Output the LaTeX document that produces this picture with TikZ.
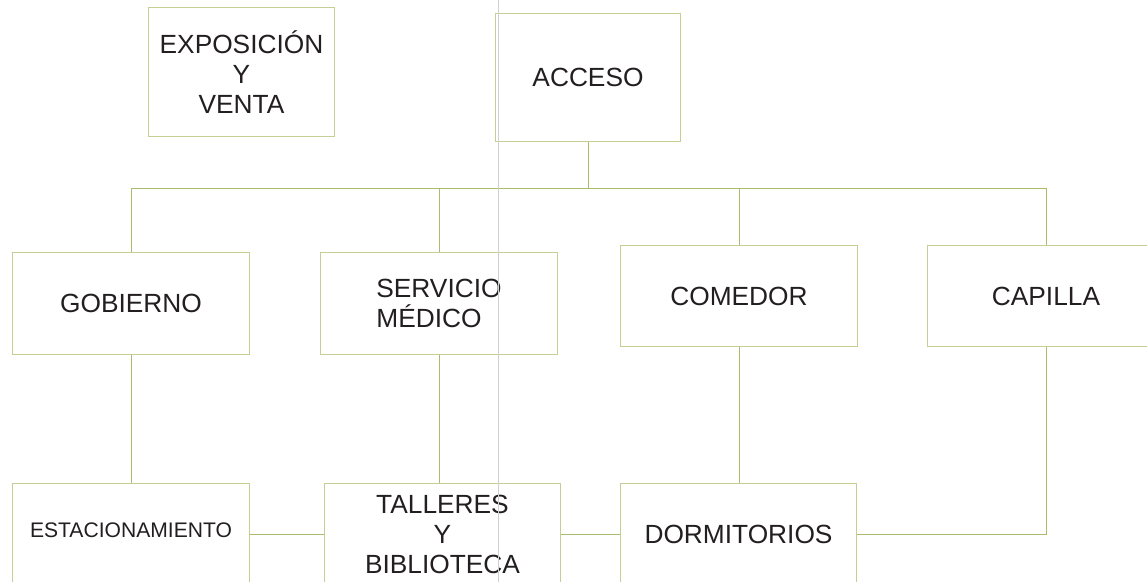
\documentclass[tikz,border=0pt]{standalone}
\usepackage{fontspec}
\setmainfont{Liberation Sans}
\usepackage{tikz}
\usetikzlibrary{positioning,calc}
\definecolor{marco}{HTML}{C4CF94}
\definecolor{enlace}{HTML}{A9BB6C}
\definecolor{guia}{HTML}{D0D0D0}
\definecolor{tinta}{HTML}{231F20}
\newcommand{\letragrande}{\fontsize{18.7}{21.3}\selectfont}
\newcommand{\letrachica}{\fontsize{15}{17}\selectfont}

\begin{document}
\begin{tikzpicture}[x=0.025cm,y=-0.025cm,
  bloque/.style={draw=marco,line width=0.7pt,fill=white,inner sep=0pt,
    minimum width=5.9cm,minimum height=2.53cm,font=\letragrande,text=tinta,align=center},
  bloquealto/.style={bloque,minimum width=4.625cm,minimum height=3.2cm},
  liga/.style={draw=enlace,line width=0.7pt}]
  \clip (0,0) rectangle (1147,582);
  \fill[white] (0,0) rectangle (1147,582);

  % Arriba
  \node[bloquealto] (expo) at (241.5,72) {EXPOSICIÓN\\Y\\VENTA};
  \node[bloquealto] (acceso) at (588,77.5) {ACCESO};

  % Segundo nivel
  \node[bloque] (gobierno) at (131,303.5) {GOBIERNO};
  \node[bloque,align=left] (servicio) at (439,303.5) {SERVICIO\\MÉDICO};
  \node[bloque] (comedor) at (739,296) {COMEDOR};
  \node[bloque] (capilla) at (1046,296) {CAPILLA};

  % Tercer nivel
  \node[bloque,font=\letrachica] (estac) at (131,534) {\raisebox{5.7pt}{ESTACIONAMIENTO}};
  \node[bloque] (talleres) at (442.5,534) {TALLERES\\Y\\BIBLIOTECA};
  \node[bloque] (dormitorios) at (738.5,534) {DORMITORIOS};

  % Barra de reparto
  \coordinate (barra) at (0,188);
  \draw[liga] (acceso.south) -- (acceso.south |- barra);
  \draw[liga] (gobierno.north) -- (gobierno.north |- barra) -- (capilla.north |- barra) -- (capilla.north);
  \draw[liga] (servicio.north) -- (servicio.north |- barra);
  \draw[liga] (comedor.north) -- (comedor.north |- barra);

  % Bajadas
  \draw[liga] (gobierno.south) -- (estac.north);
  \draw[liga] (servicio.south) -- (servicio.south |- talleres.north);
  \draw[liga] (comedor.south) -- (comedor.south |- dormitorios.north);

  % Enlaces inferiores
  \draw[liga] (estac.east) -- (talleres.west);
  \draw[liga] (talleres.east) -- (dormitorios.west);
  \draw[liga] (dormitorios.east) -| (capilla.south);

  % Linea guia
  \draw[guia,line width=0.7pt] (498,0) -- (498,582);
\end{tikzpicture}
\end{document}
